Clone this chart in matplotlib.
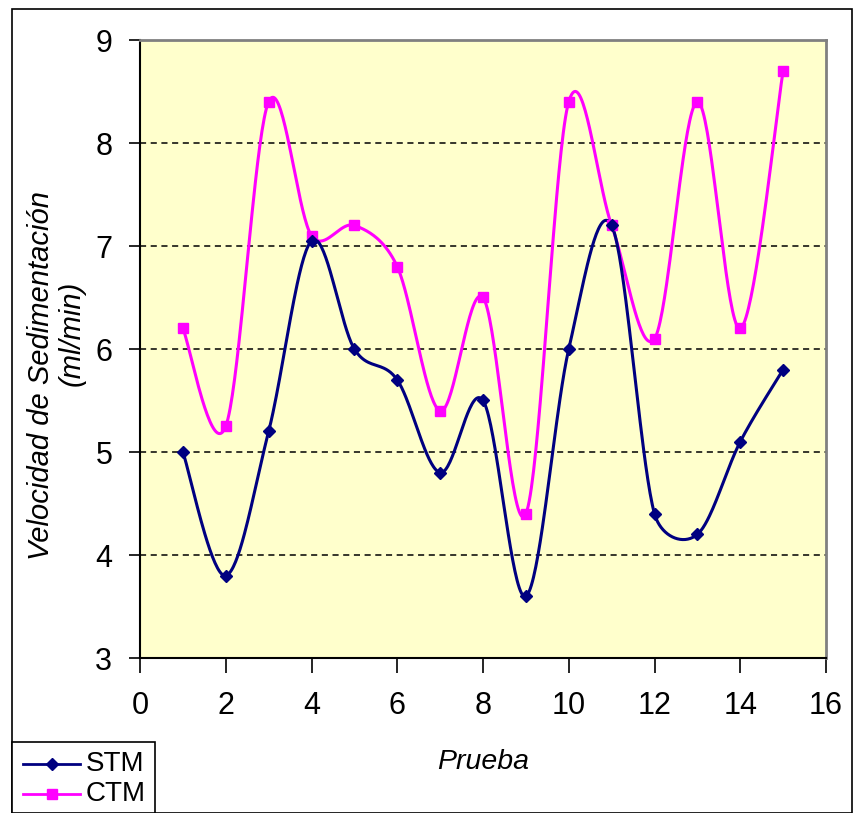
import numpy as np
import matplotlib
matplotlib.use("Agg")
import matplotlib.pyplot as plt
from matplotlib.patches import Rectangle
from matplotlib.lines import Line2D

prueba = [1, 2, 3, 4, 5, 6, 7, 8, 9, 10, 11, 12, 13, 14, 15]
stm = [5.0, 3.8, 5.2, 7.05, 6.0, 5.7, 4.8, 5.5, 3.6, 6.0, 7.2, 4.4, 4.2, 5.1, 5.8]
ctm = [6.2, 5.25, 8.4, 7.1, 7.2, 6.8, 5.4, 6.5, 4.4, 8.4, 7.2, 6.1, 8.4, 6.2, 8.7]
y_ticks = [3, 4, 5, 6, 7, 8, 9]
x_ticks = [0, 2, 4, 6, 8, 10, 12, 14, 16]

plt.rcParams['font.family'] = ['Liberation Sans', 'DejaVu Sans']

W, H = 855, 813
X0, X1, Y0, Y1 = 140, 826, 40, 658
XMIN, XMAX, YMIN, YMAX = 0, 16, 3, 9
sxp = (X1 - X0) / (XMAX - XMIN)
syp = (Y1 - Y0) / (YMAX - YMIN)


def smooth(xs, ys, n=40):
    """Excel-like smoothed line: Bezier with 1/6 tension, limited by segment length (pixel space)."""
    P = np.column_stack([np.asarray(xs, float) * sxp, np.asarray(ys, float) * syp])
    out = []
    m = len(P)
    for i in range(m - 1):
        p0 = P[i - 1] if i > 0 else P[i]
        p1 = P[i]
        p2 = P[i + 1]
        p3 = P[i + 2] if i + 2 < m else P[i + 1]
        d12 = np.linalg.norm(p2 - p1)
        d02 = np.linalg.norm(p2 - p0)
        d13 = np.linalg.norm(p3 - p1)
        f1 = 1 / 6 if d02 / 6 < d12 / 2 or d02 == 0 else d12 / (2 * d02)
        f2 = 1 / 6 if d13 / 6 < d12 / 2 or d13 == 0 else d12 / (2 * d13)
        c1 = p1 + f1 * (p2 - p0)
        c2 = p2 - f2 * (p3 - p1)
        t = np.linspace(0, 1, n)[:, None]
        seg = ((1 - t) ** 3) * p1 + 3 * ((1 - t) ** 2) * t * c1 + 3 * (1 - t) * t ** 2 * c2 + t ** 3 * p2
        out.append(seg if i == 0 else seg[1:])
    s = np.vstack(out)
    return s[:, 0] / sxp, s[:, 1] / syp


fig = plt.figure(figsize=(8.55, 8.13), dpi=100)
fig.patches.append(Rectangle((12 / W, 0), (852 - 12) / W, (H - 9) / H, transform=fig.transFigure,
                             fill=False, edgecolor='black', linewidth=1.2))

ax = fig.add_axes([X0 / W, 1 - Y1 / H, (X1 - X0) / W, (Y1 - Y0) / H])
ax.set_facecolor('#FFFFCC')
ax.set_xlim(XMIN, XMAX)
ax.set_ylim(YMIN, YMAX)
ax.set_xticks(x_ticks)
ax.set_yticks(y_ticks)
ax.tick_params(axis='both', direction='out', labelsize=22, width=1.2)
ax.tick_params(axis='y', length=8, pad=12)
ax.tick_params(axis='x', length=11, pad=13)
for s in ['left', 'bottom']:
    ax.spines[s].set_color('black')
    ax.spines[s].set_linewidth(1.5)
for s in ['top', 'right']:
    ax.spines[s].set_color('#808080')
    ax.spines[s].set_linewidth(2)

for yv in [4, 5, 6, 7, 8]:
    ax.axhline(yv, color='black', linestyle=(0, (4, 3)), linewidth=1.1, zorder=1)

sx, sy = smooth(prueba, stm)
cx, cy = smooth(prueba, ctm)
ax.plot(cx, cy, color='#FF00FF', linewidth=2.2, zorder=3)
ax.plot(prueba, ctm, linestyle='none', marker='s', markersize=7, color='#FF00FF', zorder=4)
ax.plot(sx, sy, color='#000080', linewidth=2.2, zorder=3)
ax.plot(prueba, stm, linestyle='none', marker='D', markersize=6.5, color='#000080', zorder=4)

ax.set_xlabel('Prueba', fontsize=20.5, style='italic', labelpad=20)
fig.text(41 / W, 1 - 375 / H, 'Velocidad de Sedimentación', rotation=90, fontsize=21,
         style='italic', ha='center', va='center')
fig.text(72 / W, 1 - 333 / H, '(ml/min)', rotation=90, fontsize=21,
         style='italic', ha='center', va='center')

fig.patches.append(Rectangle((12 / W, 0), (155 - 12) / W, (813 - 742) / H, transform=fig.transFigure,
                             fill=True, facecolor='white', edgecolor='black', linewidth=1.2))
for yy, col, mk, lab in [(764, '#000080', 'D', 'STM'), (794, '#FF00FF', 's', 'CTM')]:
    fy = 1 - yy / H
    fig.lines.append(Line2D([23 / W, 80 / W], [fy, fy], transform=fig.transFigure, color=col, linewidth=2))
    fig.lines.append(Line2D([52 / W], [fy], transform=fig.transFigure, color=col, marker=mk,
                            markersize=7 if mk == 's' else 6.5, linestyle='none'))
    fig.text(86 / W, fy, lab, fontsize=20, va='center', ha='left')

fig.savefig('out.png', dpi=100)
